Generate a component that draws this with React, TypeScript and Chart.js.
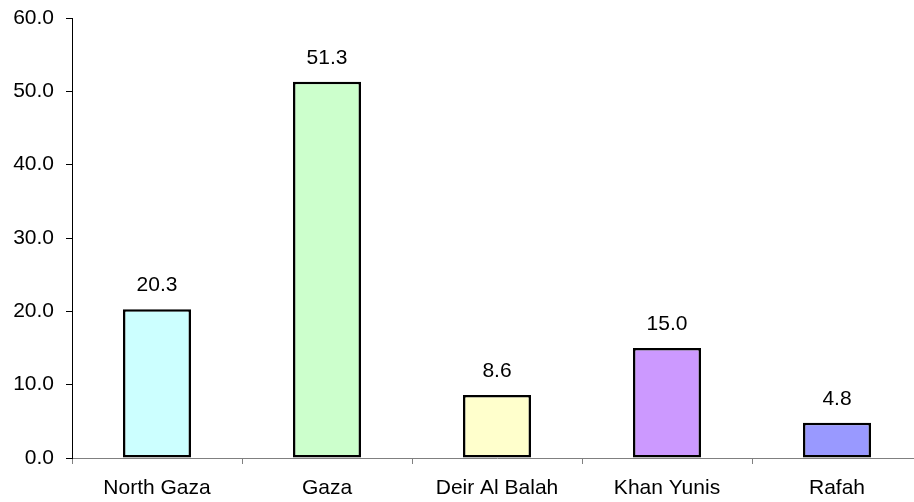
import React, { useEffect, useRef } from "react";
import { Chart, registerables } from "chart.js";

Chart.register(...registerables);

const categories = ["North Gaza", "Gaza", "Deir Al Balah", "Khan Yunis", "Rafah"];
const values = [20.3, 51.3, 8.6, 15.0, 4.8];
const barColors = ["#CCFFFF", "#CCFFCC", "#FFFFCC", "#CC99FF", "#9999FF"];
const yTicks = [0, 10, 20, 30, 40, 50, 60];

const FONT = "Arial, 'Liberation Sans', sans-serif";

const valueLabels = {
  id: "valueLabels",
  afterDatasetsDraw(chart: any) {
    const ctx = chart.ctx;
    const meta = chart.getDatasetMeta(0);
    ctx.save();
    ctx.font = `21px ${FONT}`;
    ctx.fillStyle = "#000";
    ctx.textAlign = "center";
    ctx.textBaseline = "middle";
    meta.data.forEach((bar: any, i: number) => {
      ctx.fillText(values[i].toFixed(1), bar.x, bar.y - 24);
    });
    ctx.restore();
  },
};

export default function App() {
  const ref = useRef<HTMLCanvasElement>(null);
  useEffect(() => {
    if (!ref.current) return;
    const chart = new Chart(ref.current, {
      type: "bar",
      data: {
        labels: categories,
        datasets: [
          {
            data: values,
            backgroundColor: barColors,
            borderColor: "#000",
            borderWidth: 2.5,
            borderSkipped: false,
            categoryPercentage: 1,
            barPercentage: 0.4,
          },
        ],
      },
      options: {
        responsive: false,
        animation: false,
        devicePixelRatio: 1,
        layout: { padding: { top: 18, right: 8, left: 0, bottom: 0 } },
        plugins: { legend: { display: false }, tooltip: { enabled: false } },
        scales: {
          x: {
            grid: { drawOnChartArea: false, drawTicks: true, tickLength: 6, color: "#808080", offset: true },
            border: { color: "#808080", width: 1 },
            ticks: { color: "#000", font: { family: FONT, size: 21 }, padding: 12, maxRotation: 0, autoSkip: false },
            afterFit: (s: any) => { s.height = 44; s.paddingLeft = 0; s.paddingRight = 0; },
          },
          y: {
            min: 0,
            max: 60,
            afterBuildTicks: (s: any) => { s.ticks = yTicks.map((v) => ({ value: v })); },
            grid: { drawOnChartArea: false, drawTicks: true, tickLength: 6, color: "#000" },
            border: { color: "#000", width: 1 },
            ticks: {
              color: "#000",
              font: { family: FONT, size: 21 },
              padding: 12,
              callback: (v: any) => Number(v).toFixed(1),
            },
            afterFit: (s: any) => { s.width = 72; s.paddingTop = 0; s.paddingBottom = 0; },
          },
        },
      },
      plugins: [valueLabels],
    });
    return () => chart.destroy();
  }, []);
  return (
    <div style={{ position: "fixed", left: 0, top: 0, width: 914, height: 502, overflow: "hidden", background: "#fff" }}>
      <canvas ref={ref} width={930} height={502} style={{ display: "block" }} />
    </div>
  );
}
